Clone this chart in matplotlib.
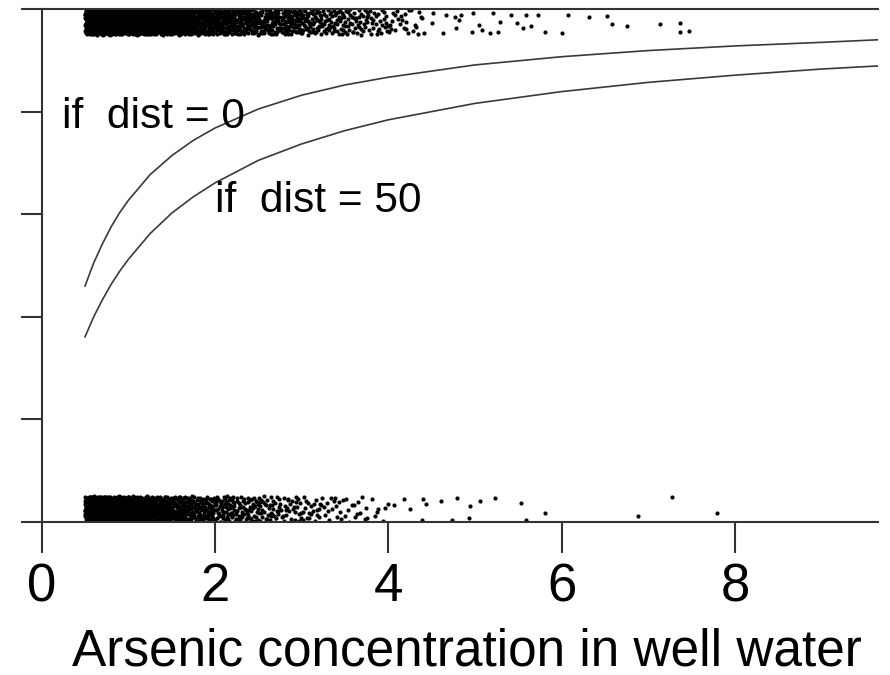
import numpy as np
import matplotlib
matplotlib.use('Agg')
import matplotlib.pyplot as plt

plt.rcParams['font.family'] = ['Liberation Sans', 'DejaVu Sans']

# fitted probability of switching
curve_x = [0.5, 0.6, 0.7, 0.8, 0.9, 1.0, 1.25, 1.5, 1.75, 2.0, 2.5, 3.0, 3.5,
           4.0, 5.0, 6.0, 7.0, 8.0, 9.0, 9.65]
p_dist0 = [0.460, 0.505, 0.542, 0.575, 0.603, 0.627, 0.677, 0.714, 0.744, 0.768,
           0.805, 0.832, 0.852, 0.867, 0.891, 0.907, 0.919, 0.928, 0.935, 0.940]
p_dist50 = [0.361, 0.400, 0.433, 0.463, 0.489, 0.512, 0.562, 0.602, 0.634, 0.661,
            0.705, 0.737, 0.763, 0.784, 0.816, 0.839, 0.857, 0.871, 0.883, 0.889]

# dense part of the jittered data: number of wells per arsenic bin
switch_edges = [0.5, 0.75, 1.0, 1.25, 1.5, 1.75, 2.0, 2.25, 2.5, 2.75, 3.0,
                3.25, 3.5, 3.75, 4.0, 4.25, 4.4]
switch_counts = [240, 210, 180, 160, 140, 120, 105, 95, 80, 70, 55, 45, 35, 28, 18, 8]
stay_edges = [0.5, 0.75, 1.0, 1.25, 1.5, 1.75, 2.0, 2.25, 2.5, 2.75, 3.0,
              3.25, 3.5, 3.75, 4.0]
stay_counts = [300, 220, 170, 130, 95, 75, 60, 48, 38, 30, 22, 16, 12, 8]

# sparse tail, single points (arsenic, jittered y)
switch_tail_x = [4.41, 4.50, 4.52, 4.63, 4.67, 4.77, 4.78, 4.82, 4.84, 4.96, 4.98,
                 5.05, 5.08, 5.17, 5.21, 5.27, 5.29, 5.42, 5.48, 5.55, 5.59, 5.65,
                 5.73, 5.81, 6.00, 6.07, 6.32, 6.52, 6.58, 6.75, 7.14, 7.37, 7.37, 7.47]
switch_tail_y = [0.953, 0.972, 0.992, 0.953, 0.988, 0.985, 0.962, 0.979, 0.988, 0.956,
                 0.992, 0.969, 0.959, 0.953, 0.992, 0.956, 0.975, 0.988, 0.972, 0.962,
                 0.988, 0.967, 0.988, 0.956, 0.953, 0.988, 0.984, 0.986, 0.971, 0.967,
                 0.971, 0.972, 0.955, 0.958]
stay_tail_x = [4.07, 4.18, 4.25, 4.40, 4.44, 4.39, 4.61, 4.73, 4.79, 4.94, 4.93,
               5.06, 5.23, 5.53, 5.59, 5.81, 6.88, 7.27, 7.79]
stay_tail_y = [0.033, 0.044, 0.025, 0.044, 0.036, 0.004, 0.040, 0.004, 0.046, 0.031,
               0.007, 0.041, 0.047, 0.038, 0.003, 0.017, 0.012, 0.049, 0.017]


def halton(i, b):
    f, r = 1.0, 0.0
    while i > 0:
        f /= b
        r += f * (i % b)
        i //= b
    return r


def spread(edges, counts, y0, y1, start):
    # spread each bin's wells evenly over the bin and the jitter band
    xs, ys = [], []
    k = start
    for lo, hi, n in zip(edges[:-1], edges[1:], counts):
        for _ in range(n):
            k += 1
            xs.append(lo + (hi - lo) * halton(k, 2))
            ys.append(y0 + (y1 - y0) * halton(k, 3))
    return xs, ys


sx, sy = spread(switch_edges, switch_counts, 0.95, 1.0, 7)
nx, ny = spread(stay_edges, stay_counts, 0.0, 0.05, 3001)

fig = plt.figure(figsize=(8.9, 6.75), dpi=100)
ax = fig.add_axes([41.7 / 890, 153 / 675, 836.3 / 890, 513 / 675])

ax.scatter(sx + switch_tail_x, sy + switch_tail_y, s=9, c='black', linewidths=0)
ax.scatter(nx + stay_tail_x, ny + stay_tail_y, s=9, c='black', linewidths=0)

ax.plot(curve_x, p_dist0, color='#3a3a3a', lw=1.2)
ax.plot(curve_x, p_dist50, color='#3a3a3a', lw=1.2)

ax.text(0.23, 0.768, 'if  dist = 0', fontsize=30.5, va='baseline', ha='left')
ax.text(2.0, 0.604, 'if  dist = 50', fontsize=30.5, va='baseline', ha='left')

ax.set_xlim(0, 9.65)
ax.set_ylim(0, 1)
ax.set_xticks([0, 2, 4, 6, 8])
ax.set_yticks([0, 0.2, 0.4, 0.6, 0.8, 1.0])
ax.set_yticklabels([])
ax.tick_params(axis='x', length=22, width=1.5, pad=7, labelsize=38, color='#333333')
ax.tick_params(axis='y', length=15, width=1.5, color='#333333')
ax.spines['right'].set_visible(False)
for side in ['left', 'bottom', 'top']:
    ax.spines[side].set_linewidth(1.5)
    ax.spines[side].set_color('#333333')
ax.set_xlabel('Arsenic concentration in well water', fontsize=37, labelpad=11)
ax.xaxis.label.set_x(0.508)

fig.savefig('out.png', dpi=100)
